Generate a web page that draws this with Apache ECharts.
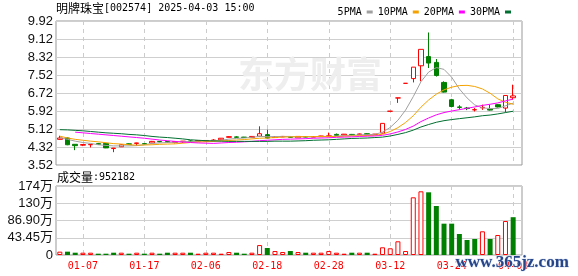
<!DOCTYPE html>
<html><head><meta charset="utf-8">
<script src="https://cdn.jsdelivr.net/npm/echarts@6/dist/echarts.min.js"></script>
<style>html,body{margin:0;padding:0;background:#fff}#c{width:578px;height:276px}</style>
</head><body><div id="c"></div>
<script>
const dates = ['01-02','01-03','01-06','01-07','01-08','01-09','01-10','01-13','01-14','01-15','01-16','01-17','01-20','01-21','01-22','01-23','01-24','01-27',
'02-05','02-06','02-07','02-10','02-11','02-12','02-13','02-14','02-17','02-18','02-19','02-20','02-21','02-24','02-25','02-26','02-27','02-28',
'03-03','03-04','03-05','03-06','03-07','03-10','03-11','03-12','03-13','03-14','03-17','03-18','03-19','03-20','03-21','03-24','03-25','03-26','03-27','03-28','03-31',
'04-01','04-02','04-03'];
const opens  = [4.66,4.72,4.44,4.40,4.42,4.47,4.48,4.25,4.33,4.46, 4.48,4.47,4.50,4.57,4.56,4.52,4.55,4.59,4.57,4.58, 4.60,4.64,4.75,4.77,4.76,4.74,4.80,4.87,4.74,4.77, 4.77,4.73,4.78,4.76,4.78,4.78,4.88,4.85,4.88,4.87, 4.91,4.88,4.94,5.91,6.50,7.15,7.36,7.93,8.34,8.08, 7.19,6.42,6.10,6.05,5.97,6.06,6.00,6.20,6.05,6.51];
const closes = [4.72,4.42,4.38,4.43,4.44,4.44,4.28,4.27,4.42,4.44, 4.50,4.45,4.57,4.55,4.53,4.56,4.58,4.57,4.60,4.61, 4.63,4.71,4.78,4.75,4.74,4.79,4.91,4.72,4.76,4.79, 4.75,4.79,4.76,4.78,4.81,4.82,4.84,4.89,4.86,4.90, 4.88,4.89,5.37,5.91,6.50,7.15,7.87,8.66,8.05,7.50, 6.76,6.12,6.08,6.03,5.98,6.08,5.96,6.10,6.61,6.59];
const lows   = [4.64,4.40,4.18,4.36,4.30,4.42,4.27,4.09,4.32,4.42, 4.37,4.43,4.49,4.53,4.52,4.48,4.50,4.54,4.56,4.57, 4.57,4.63,4.74,4.72,4.72,4.73,4.78,4.70,4.72,4.76, 4.72,4.72,4.74,4.75,4.77,4.76,4.83,4.84,4.83,4.86, 4.84,4.87,4.92,5.91,6.28,7.15,7.19,7.24,7.83,7.45, 6.74,6.08,5.98,5.96,5.90,5.97,5.94,6.08,5.86,6.42];
const highs  = [4.82,4.74,4.45,4.44,4.45,4.50,4.50,4.28,4.44,4.48, 4.51,4.49,4.59,4.58,4.57,4.58,4.59,4.62,4.61,4.62, 4.67,4.72,4.80,4.80,4.77,4.80,5.24,5.09,4.80,4.81, 4.78,4.80,4.80,4.80,4.82,4.96,4.92,4.90,4.90,4.92, 4.93,4.90,5.37,5.91,6.50,7.15,7.87,8.66,9.41,8.23, 7.24,6.46,6.18,6.10,6.05,6.20,6.20,6.22,6.63,7.09];
const volumes = [84000,84000,58000,58000,58000,33000,33000,58000,58000,33000, 58000,33000,58000,33000,58000,58000,58000,58000,33000,58000, 58000,33000,75000,58000,33000,58000,250000,176000,100000,75000, 100000,75000,58000,58000,58000,100000,58000,33000,58000,58000, 58000,33000,194000,169000,345000,100000,1453000,1604000,1579000,1234000, 789000,789000,529000,378000,403000,597000,403000,504000,856000,952182];
const volUp = [1,0,0,1,1,0,0,0,1,0, 1,0,1,0,0,1,1,0,1,1, 1,1,1,0,0,1,1,0,1,1, 0,1,0,1,1,1,1,1,0,1, 0,1,1,1,1,1,1,1,0,0, 0,0,0,0,0,1,0,1,1,0];
const ma5  = [4.74,4.66,4.58,4.52,4.48,4.42,4.39,4.37,4.37,4.37, 4.38,4.42,4.48,4.50,4.52,4.53,4.56,4.56,4.57,4.58, 4.60,4.62,4.67,4.70,4.72,4.75,4.79,4.78,4.78,4.79, 4.79,4.76,4.77,4.77,4.78,4.79,4.80,4.83,4.84,4.86, 4.87,4.88,4.98,5.19,5.51,5.96,6.56,7.22,7.65,7.85, 7.77,7.42,6.90,6.50,6.19,6.06,6.03,6.03,6.15,6.27];
const ma10 = [4.80,4.72,4.66,4.62,4.58,4.55,4.51,4.47,4.45,4.42, 4.40,4.41,4.42,4.44,4.45,4.46,4.49,4.52,4.54,4.55, 4.57,4.59,4.61,4.63,4.65,4.68,4.71,4.72,4.74,4.76, 4.77,4.78,4.78,4.78,4.79,4.79,4.78,4.80,4.81,4.82, 4.83,4.84,4.89,5.01,5.18,5.41,5.71,6.09,6.41,6.67, 6.86,6.98,7.05,7.06,7.01,6.90,6.71,6.46,6.31,6.22];
const ma20 = [null,null,4.98,4.95,4.92,4.89,4.86,4.83,4.80,4.77, 4.74,4.71,4.67,4.63,4.60,4.57,4.54,4.52,4.50,4.49, 4.48,4.50,4.52,4.53,4.55,4.57,4.60,4.62,4.64,4.66, 4.67,4.68,4.69,4.71,4.72,4.73,4.75,4.76,4.77,4.79, 4.80,4.81,4.84,4.90,4.99,5.10,5.25,5.45,5.61,5.75, 5.85,5.92,5.98,6.04,6.10,6.17,6.22,6.28,6.37,6.45];
const ma30 = [5.09,5.08,5.06,5.04,5.01,4.98,4.95,4.93,4.91,4.88, 4.86,4.83,4.79,4.76,4.74,4.71,4.68,4.64,4.62,4.60, 4.59,4.58,4.57,4.57,4.57,4.57,4.57,4.57,4.58,4.58, 4.58,4.59,4.60,4.62,4.63,4.64,4.66,4.68,4.70,4.71, 4.72,4.74,4.76,4.81,4.88,4.96,5.07,5.21,5.32,5.42, 5.49,5.54,5.58,5.62,5.66,5.71,5.74,5.79,5.85,5.91];
const priceTicks = ['3.52','4.32','5.12','5.92','6.72','7.52','8.32','9.12','9.92'];
const volTicks = ['0','43.45万','86.90万','130万','174万'];
const maNames = ['5PMA','10PMA','20PMA','30PMA'];

const RED = '#ff0000', GREEN = '#008000';
const maColors = ['#a0a0a0','#f5a200','#ff00ff','#006f30'];
const showIdx = (i) => i % 8 === 3;
const mono = 'DejaVu Sans Mono, Liberation Mono, monospace';
const cjk = 'Noto Sans CJK SC';

const chart = echarts.init(document.getElementById('c'), null, {renderer: 'canvas'});
const kData = opens.map((o, i) => [o, closes[i], lows[i], highs[i]]);
const vData = volumes.map((v, i) => ({
  value: v,
  itemStyle: volUp[i] ? {color: '#fff', borderColor: RED, borderWidth: 1} : {color: GREEN}
}));
const vSplit = {show: true, interval: showIdx, alignWithLabel: true, lineStyle: {color: '#cccccc', type: [4, 4], width: 1}};
const frameY = (labels) => ({
  type: 'value', min: 0, max: labels.length - 1, interval: 1,
  axisLine: {show: false}, axisTick: {show: false},
  axisLabel: {formatter: (v) => labels[v], color: '#111', fontSize: 13, margin: 3,
    fontFamily: 'Liberation Sans, Arial, ' + cjk},
  splitLine: {lineStyle: {color: '#cfcfcf', width: 1}}
});
const maSeries = [ma5, ma10, ma20, ma30].map((d, k) => ({
  name: maNames[k], type: 'line', xAxisIndex: 1, yAxisIndex: 1, data: d,
  symbol: 'none', z: 4, lineStyle: {color: maColors[k], width: 1}, itemStyle: {color: maColors[k]}
}));

chart.setOption({
  animation: false,
  legend: {
    data: maNames, right: 62, top: 2, align: 'right', icon: 'rect',
    itemWidth: 6, itemHeight: 3, itemGap: 5,
    textStyle: {fontFamily: mono, fontSize: 10, color: '#000'}
  },
  grid: [
    {left: 56, top: 21, width: 466, height: 144, show: true, borderColor: '#999', borderWidth: 1},
    {left: 56, top: 21, width: 461, height: 144},
    {left: 56, top: 186, width: 466, height: 69, show: true, borderColor: '#999', borderWidth: 1},
    {left: 56, top: 186, width: 461, height: 69}
  ],
  xAxis: [
    {gridIndex: 0, type: 'value', min: 0, max: 1, show: false},
    {gridIndex: 1, type: 'category', data: dates, boundaryGap: true,
      axisLine: {show: false}, axisTick: {show: false}, axisLabel: {show: false}, splitLine: vSplit},
    {gridIndex: 2, type: 'value', min: 0, max: 1, show: false},
    {gridIndex: 3, type: 'category', data: dates, boundaryGap: true,
      axisLine: {show: false}, axisTick: {show: false},
      axisLabel: {interval: showIdx, color: RED, fontSize: 10, fontFamily: mono, margin: 6},
      splitLine: vSplit}
  ],
  yAxis: [
    Object.assign({gridIndex: 0}, frameY(priceTicks)),
    {gridIndex: 1, type: 'value', min: 3.52, max: 9.92, show: false, splitLine: {show: false}},
    Object.assign({gridIndex: 2}, frameY(volTicks)),
    {gridIndex: 3, type: 'value', min: 0, max: 1738000, show: false, splitLine: {show: false}}
  ],
  graphic: [
    {type: 'text', left: 56, top: 2, z: 10, style: {
      text: '{c|明牌珠宝}{m|[002574] 2025-04-03 15:00}',
      rich: {c: {fontFamily: cjk, fontSize: 12, fill: '#000'}, m: {fontFamily: mono, fontSize: 10, fill: '#000'}}
    }},
    {type: 'text', left: 57, top: 171, z: 10, style: {
      text: '{c|成交量}{m|:' + volumes[volumes.length - 1] + '}',
      rich: {c: {fontFamily: cjk, fontSize: 12, fill: '#000'}, m: {fontFamily: mono, fontSize: 10, fill: '#000'}}
    }},
    {type: 'text', left: 238, top: 56, z: 1, style: {
      text: '东方财富', fontFamily: cjk, fontSize: 36, fontWeight: 'bold', fill: '#eeeeee'
    }},
    {type: 'text', left: 455, top: 254, z: 20, style: {
      text: 'www.365jz.com', fontFamily: 'Liberation Serif, serif', fontSize: 17, fontWeight: 'bold',
      fill: '#27468a', stroke: '#dde6f5', lineWidth: 1
    }}
  ],
  series: [
    {type: 'candlestick', xAxisIndex: 1, yAxisIndex: 1, data: kData, barWidth: 5, z: 3,
      itemStyle: {color: '#fff', color0: GREEN, borderColor: RED, borderColor0: GREEN, borderWidth: 1}},
    ...maSeries,
    {type: 'bar', xAxisIndex: 3, yAxisIndex: 3, data: vData, barWidth: 5, z: 3}
  ]
});
</script></body></html>
